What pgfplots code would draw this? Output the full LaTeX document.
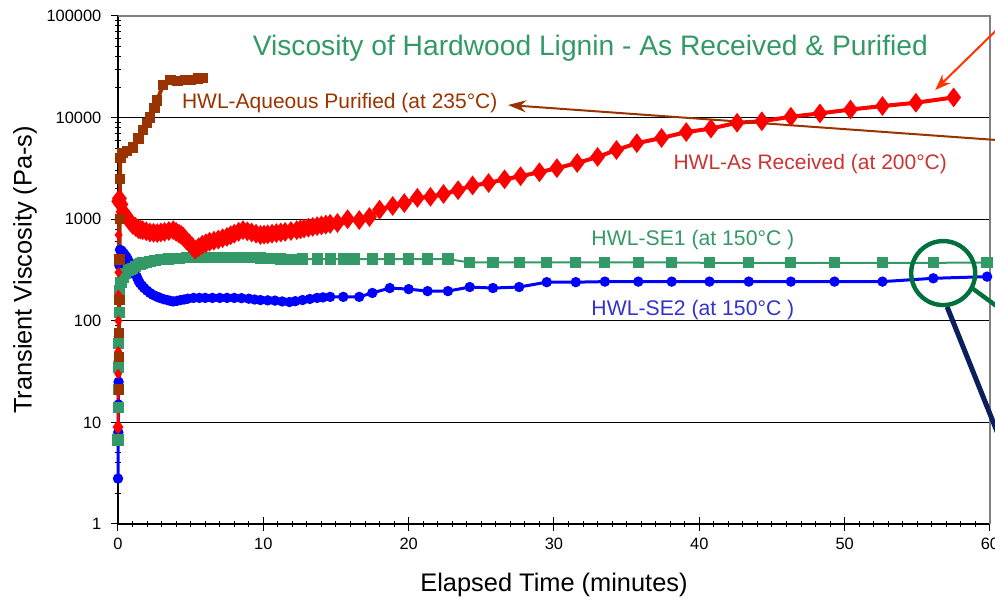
\documentclass[border=0pt]{standalone}
\usepackage{fontspec}
\setmainfont{Liberation Sans}
\usepackage{pgfplots}
\pgfplotsset{compat=1.18}
\usetikzlibrary{arrows.meta}
\definecolor{cred}{HTML}{FF0000}
\definecolor{cbrown}{HTML}{993300}
\definecolor{cgreen}{HTML}{339966}
\definecolor{cblue}{HTML}{0000FF}
\definecolor{lblue}{HTML}{3333CC}
\definecolor{lred}{HTML}{CC3333}
\definecolor{circg}{HTML}{00703C}
\definecolor{navy}{HTML}{0A1F5C}
\definecolor{ared}{HTML}{FF3300}
\begin{document}
\begin{tikzpicture}
\begin{axis}[
  scale only axis, width=436pt, height=254pt,
  xmin=0, xmax=60, ymode=log, ymin=1, ymax=100000,
  xtick={0,10,20,30,40,50,60}, xticklabels={0,10,20,30,40,50,60},
  minor x tick num=9,
  ytick={1,10,100,1000,10000,100000},
  yticklabels={1,10,100,1000,10000,100000},
  axis x line*=bottom, axis y line*=left,
  axis line style={-, black, line width=0.6pt},
  ymajorgrids, grid style={black, line width=0.6pt},
  tick style={black, line width=0.5pt},
  tick align=center, major tick length=7pt, minor tick length=3pt,
  tick label style={font=\fontsize{8.2}{9}\selectfont},
  yticklabel style={xshift=-1.3pt},
  clip=false,
]
\coordinate (bl) at (rel axis cs:0,0);
\draw[gray, line width=0.6pt] (rel axis cs:0,1) -- (rel axis cs:1,1) -- (rel axis cs:1,0);

% HWL-SE2 (blue)
\addplot[cblue, line width=1.5pt, mark=*, mark size=1.8pt, mark options={solid, fill=cblue}] coordinates {
(0,2.8) (0.02,8) (0.03,15) (0.04,25) (0.05,40) (0.06,70) (0.07,120) (0.08,200) (0.1,350) (0.14,500)
(0.25,490) (0.4,460) (0.5,440) (0.6,420) (0.7,395) (0.8,370) (0.9,345) (1.03,316) (1.15,290) (1.3,270)
(1.4,250) (1.5,235) (1.65,222) (1.8,210) (2.0,198) (2.2,188) (2.4,180) (2.6,175) (2.75,171) (2.9,168)
(3.15,163) (3.4,160) (3.6,157) (3.8,155) (4.05,157) (4.3,160) (4.55,162) (4.8,165) (5.2,168) (5.6,168)
(6,168) (6.5,168) (7,168) (7.5,168) (8,168) (8.5,167) (9,165) (9.4,162) (9.8,160) (10.3,159)
(10.8,158) (11.3,155) (11.8,153) (12.2,156) (12.7,160) (13.2,164) (13.7,168) (14.1,170) (14.6,172)
(15.5,172) (16.6,172) (17.5,188) (18.7,210)
(20,205) (21.3,196) (22.7,196) (24.2,215) (25.8,210) (27.6,215) (29.5,240) (31.5,240) (33.5,243)
(35.8,243) (38.1,243) (40.7,243) (43.4,243) (46.3,243) (49.3,243) (52.6,243) (56.1,262) (59.8,272)
};
% HWL-SE1 (green)
\addplot[cgreen, line width=1pt, mark=square*, mark size=2.3pt, mark options={solid, fill=cgreen}] coordinates {
(0,6.7) (0.01,14) (0.02,21) (0.03,35) (0.05,60) (0.08,120) (0.12,200) (0.2,240) (0.35,270)
(0.5,290) (0.7,310) (0.85,320) (1.0,330) (1.2,343) (1.4,355) (1.55,362) (1.7,370) (1.95,378) (2.2,385)
(2.55,393) (2.9,400) (3.2,403) (3.5,405) (3.85,408) (4.2,412) (4.7,416) (5.2,420) (5.6,420) (6,420)
(6.5,420) (7,420) (7.5,420) (8.0,419) (8.5,418) (9.1,416) (9.8,415) (10.15,412) (10.5,410) (10.85,407)
(11.2,405) (11.6,402) (12,400) (12.7,405) (13.7,405) (14.6,405)
(15.5,405) (16.3,405) (17.5,405) (18.7,405) (20,405) (21.3,405) (22.7,405) (24.2,375) (25.8,375)
(27.6,375) (29.5,375) (31.5,375) (33.5,375) (35.8,375) (38.1,375) (40.7,372) (43.4,372) (46.3,372)
(49.3,372) (52.6,372) (56.1,372) (59.8,375)
};
% HWL-As Received (red): start-up segment with small marks
\addplot[cred, line width=1.5pt, mark=diamond*, mark size=1.4pt, mark options={solid, fill=cred}] coordinates {
(0.0,9) (0.005,20) (0.01,30) (0.015,50) (0.02,100) (0.025,180) (0.03,300) (0.04,700) (0.05,1500) (0.1,1600)
};
\addplot[cred, only marks, mark=diamond*, mark size=3.3pt, mark options={solid, fill=cred}] coordinates {(0.0,9)};
% HWL-As Received (red)
\addplot[cred, line width=2pt, mark=diamond*, mark size=3.3pt, mark options={solid, fill=cred}] coordinates {
(0.05,1500) (0.1,1600) (0.2,1400) (0.35,1180) (0.5,1100) (0.7,1000) (0.85,940)
(1.0,880) (1.2,840) (1.4,800) (1.55,790) (1.7,780) (1.95,760) (2.2,740) (2.45,735) (2.7,730) (2.95,740)
(3.2,750) (3.5,765) (3.8,780) (4.0,750) (4.2,720) (4.35,700) (4.5,670) (4.7,620) (4.9,580) (5.1,540)
(5.3,500) (5.55,530) (5.8,560) (6.05,580) (6.3,600) (6.6,615) (6.9,630) (7.2,650) (7.5,670) (7.75,695)
(8.0,720) (8.3,750) (8.6,780) (8.9,760) (9.2,740) (9.5,720) (9.8,700) (10.05,705) (10.3,710) (10.6,720)
(10.9,730) (11.2,740) (11.5,750) (11.9,765) (12.3,780) (12.55,795) (12.8,810) (13.1,825) (13.4,840)
(13.7,855) (14.0,870) (14.3,885) (14.6,900) (15.1,918) (15.8,1000)
(16.6,980) (17.3,1050) (18.0,1240) (18.9,1350) (19.7,1440) (20.6,1620) (21.5,1660) (22.4,1770)
(23.4,1930) (24.4,2150) (25.5,2270) (26.6,2470) (27.7,2650) (29.0,2900) (30.2,3180) (31.6,3570)
(33.0,4100) (34.3,4800) (35.7,5600) (37.4,6300) (39.1,7200) (40.8,7800) (42.6,8900) (44.3,9200)
(46.3,10200) (48.3,11000) (50.4,12000) (52.6,13000) (54.9,14000) (57.5,15800)
};
% HWL-Aqueous Purified (brown)
\addplot[cbrown, line width=2pt, mark=square*, mark size=1.6pt, mark options={solid, fill=cbrown}] coordinates {
(0.08,21) (0.08,44) (0.08,76) (0.1,160) (0.1,400) (0.12,1000) (0.14,2500) (0.16,4000) (0.3,4500)
(0.6,4700) (1.03,5100) (1.4,6200) (1.7,7600) (2.0,8800) (2.2,10000) (2.5,12500) (2.7,14800)
(3.1,21000) (3.6,23500) (4.1,23000) (4.6,23300) (5.0,23500) (5.5,24200) (5.85,24500)
};

% annotations
\node[cgreen, anchor=base, font=\fontsize{14.1}{16}\selectfont] at (axis cs:32.5,41300) {Viscosity of Hardwood Lignin - As Received \& Purified};
\node[cbrown, anchor=base west, inner sep=0pt, font=\fontsize{10.5}{12}\selectfont] at (axis cs:4.38,12400) {HWL-Aqueous Purified (at 235°C)};
\node[lred, anchor=base west, inner sep=0pt, font=\fontsize{10.5}{12}\selectfont] at (axis cs:38.2,3050) {HWL-As Received (at 200°C)};
\node[cgreen, anchor=base west, inner sep=0pt, font=\fontsize{10.6}{12}\selectfont] at (axis cs:32.55,557) {HWL-SE1 (at 150°C )};
\node[lblue, anchor=base west, inner sep=0pt, font=\fontsize{10.6}{12}\selectfont] at (axis cs:32.55,114) {HWL-SE2 (at 150°C )};

\draw[cbrown, line width=1pt, -{Stealth[length=9pt, width=6pt]}] (axis cs:60.36,6030) -- (axis cs:26.84,13300);
\draw[ared, line width=1pt, -{Stealth[length=8pt, width=6pt]}] (axis cs:61.4,98900) -- (axis cs:56.23,18700);

\draw[circg, line width=2.2pt] (axis cs:58.84,206) -- (axis cs:61.4,111);
\draw[navy, line width=2.5pt] (axis cs:57.05,137) -- (axis cs:60.7,6.8);
\draw[circg, line width=2.2pt] (axis cs:56.78,295) circle[radius=16pt];
\end{axis}
\node[anchor=base, font=\fontsize{12.7}{14}\selectfont] at ([shift={(218pt,-34pt)}]bl) {Elapsed Time (minutes)};
\node[rotate=90, anchor=center, font=\fontsize{12.7}{14}\selectfont] at ([shift={(-46.5pt,127pt)}]bl) {Transient Viscosity (Pa-s)};
\pgfresetboundingbox
\path[use as bounding box] ([shift={(-59pt,-37.5pt)}]bl) rectangle ([shift={(438.5pt,262pt)}]bl);
\end{tikzpicture}
\end{document}
